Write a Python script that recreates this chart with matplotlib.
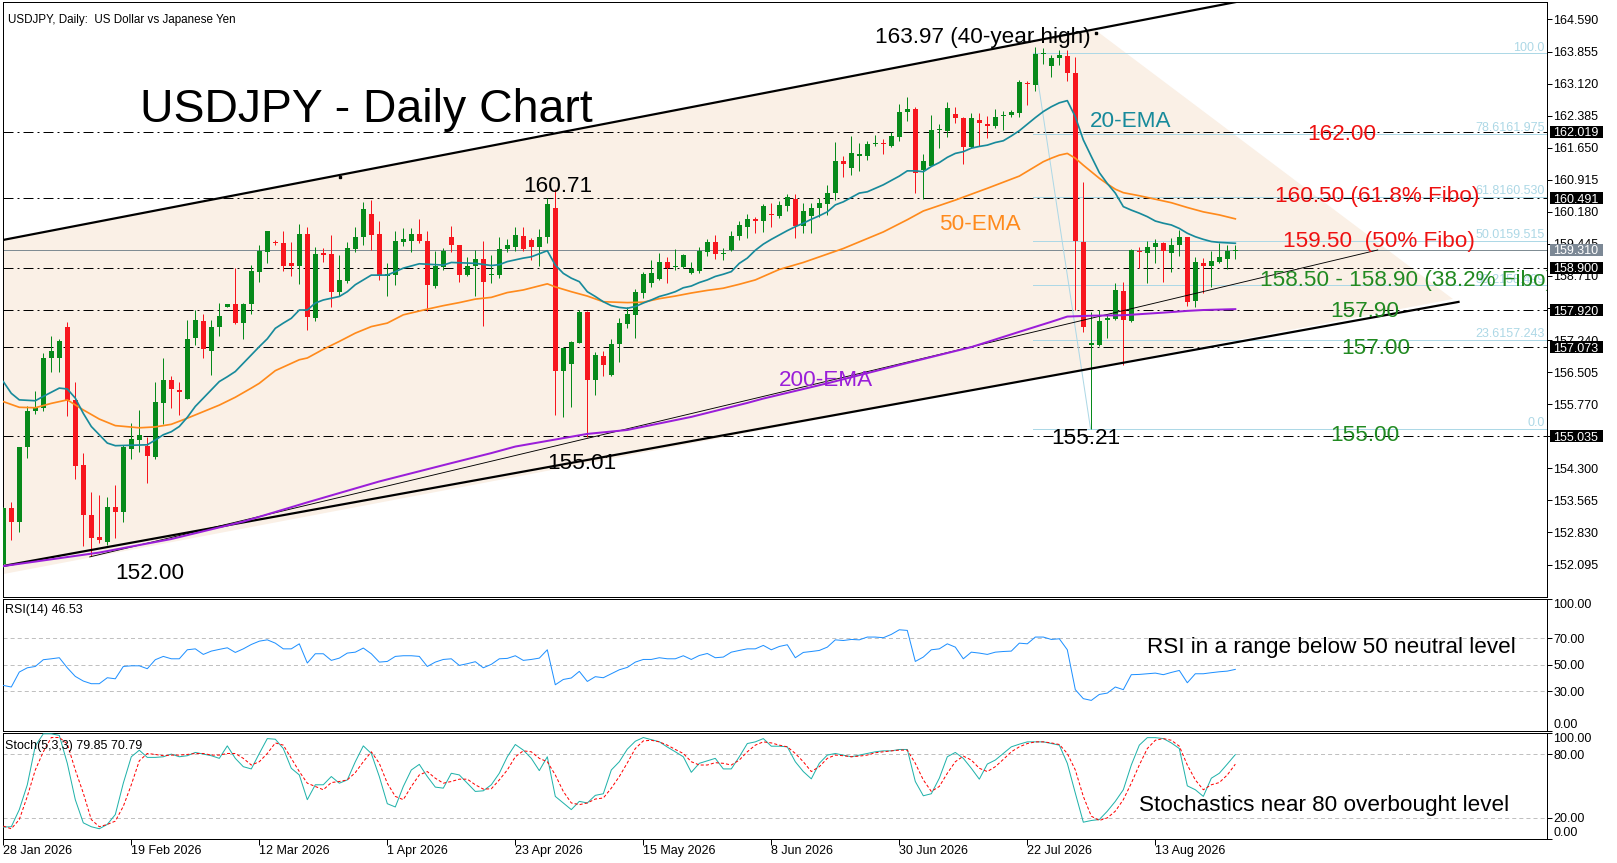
import numpy as np
import matplotlib.pyplot as plt
import matplotlib.transforms as mtransforms
from matplotlib.patches import Rectangle, Polygon

plt.rcParams['font.family'] = ['Liberation Sans', 'DejaVu Sans']
plt.rcParams['lines.scale_dashes'] = False

W, H, DPI = 1617, 863, 100
PX = 72 / DPI  # points per pixel

# ---- price data (daily candles) ----
opens = [152.10, 153.39, 153.06, 154.78, 155.62, 155.68, 156.82, 156.83, 157.54, 155.87,
         154.38, 153.23, 152.73, 152.62, 153.41, 153.29, 154.75, 154.96, 154.82, 154.57,
         155.79, 156.33, 156.10, 155.90, 157.28, 157.67, 157.00, 157.54, 157.99, 158.06,
         157.64, 158.06, 158.81, 159.27, 159.50, 159.46, 159.00, 158.94, 159.67, 157.74,
         159.23, 159.22, 158.35, 158.60, 159.33, 159.60, 160.13, 159.67, 158.71, 158.73,
         159.50, 159.52, 159.67, 159.51, 158.48, 158.91, 159.60, 159.42, 158.73, 158.94,
         159.10, 158.73, 158.73, 159.32, 159.38, 159.63, 159.54, 159.37, 159.60, 160.28,
         156.54, 156.69, 157.17, 157.88, 156.32, 156.87, 156.43, 157.15, 157.61, 157.82,
         158.33, 158.54, 158.63, 159.04, 158.91, 158.91, 158.77, 158.83, 159.25, 159.50,
         159.21, 159.31, 159.63, 159.83, 160.02, 159.98, 160.13, 160.09, 160.31, 160.48,
         159.86, 160.09, 160.28, 160.35, 160.61, 161.35, 161.19, 161.46, 161.45, 161.74,
         161.77, 161.69, 161.90, 162.48, 162.53, 161.14, 161.22, 162.06, 162.04, 162.42,
         162.34, 161.66, 162.29, 162.19, 162.15, 162.38, 162.40, 162.44, 163.14, 163.09,
         163.79, 163.52, 163.70, 163.75, 163.36, 159.50, 157.13, 157.13, 157.69, 157.72,
         158.37, 157.68, 159.29, 159.24, 159.38, 159.47, 159.24, 159.42, 159.60, 158.14,
         159.00, 158.95, 159.04, 159.09, 159.29]
highs = [153.42, 153.52, 154.80, 155.72, 156.08, 156.95, 157.34, 157.27, 157.65, 156.29,
         154.65, 153.75, 153.68, 153.65, 153.92, 154.84, 155.35, 155.64, 155.03, 156.29,
         156.82, 156.42, 156.27, 157.70, 157.93, 157.85, 157.70, 158.08, 158.06, 158.89,
         158.08, 158.96, 159.42, 159.75, 159.54, 159.73, 159.50, 159.90, 159.84, 159.37,
         159.35, 159.65, 159.19, 159.50, 159.84, 160.41, 160.45, 159.97, 159.00, 159.75,
         159.80, 159.80, 160.01, 159.75, 159.29, 159.35, 159.86, 159.42, 159.14, 159.31,
         159.52, 159.19, 159.61, 159.56, 159.84, 159.84, 159.58, 159.78, 160.49, 160.71,
         157.07, 157.21, 157.92, 157.90, 156.96, 157.00, 157.27, 157.74, 157.99, 158.41,
         158.81, 159.08, 159.23, 159.15, 159.32, 159.21, 159.04, 159.37, 159.55, 159.65,
         159.35, 159.75, 159.97, 160.12, 160.07, 160.35, 160.39, 160.43, 160.58, 160.59,
         160.38, 160.39, 160.49, 160.80, 161.79, 161.46, 161.92, 161.75, 161.81, 161.94,
         161.84, 162.00, 162.65, 162.81, 162.58, 161.50, 162.40, 162.19, 162.71, 162.58,
         162.36, 162.45, 162.45, 162.38, 162.53, 162.50, 162.51, 163.20, 163.19, 163.97,
         163.93, 163.78, 163.88, 163.89, 163.74, 160.86, 157.89, 157.93, 157.85, 158.54,
         158.57, 159.34, 159.37, 159.52, 159.55, 159.50, 159.57, 159.76, 159.61, 159.15,
         159.12, 159.29, 159.46, 159.42, 159.42]
lows = [152.05, 152.66, 152.85, 154.53, 155.55, 155.62, 156.52, 156.50, 155.51, 154.06,
        152.51, 152.28, 152.58, 152.55, 152.70, 153.06, 154.52, 154.68, 153.97, 154.51,
        155.31, 155.69, 155.53, 155.90, 157.13, 156.84, 156.43, 157.34, 157.99, 157.61,
        157.26, 157.85, 158.58, 159.00, 159.42, 158.83, 158.70, 158.53, 157.48, 157.67,
        159.02, 158.01, 158.24, 158.56, 159.27, 159.42, 159.31, 158.62, 158.24, 158.51,
        159.40, 159.27, 159.46, 157.90, 158.43, 158.85, 159.27, 158.58, 158.71, 158.24,
        157.57, 158.54, 158.66, 159.27, 159.29, 159.29, 159.08, 158.94, 159.46, 155.53,
        155.47, 155.70, 157.17, 155.01, 155.99, 156.41, 156.42, 156.73, 157.51, 157.28,
        158.20, 158.45, 158.62, 158.56, 158.85, 158.89, 158.75, 158.79, 159.16, 159.09,
        159.08, 159.29, 159.54, 159.57, 159.69, 159.71, 159.84, 160.03, 160.21, 159.57,
        159.69, 159.69, 160.07, 160.11, 160.45, 160.97, 161.03, 161.12, 161.37, 161.69,
        161.51, 161.67, 161.81, 162.27, 160.61, 160.48, 161.22, 161.64, 161.90, 162.22,
        161.28, 161.64, 161.69, 161.87, 162.10, 162.06, 162.36, 162.36, 162.63, 162.96,
        163.58, 163.28, 163.55, 163.19, 157.93, 157.43, 155.21, 157.11, 157.28, 157.71,
        156.67, 157.66, 158.89, 158.56, 159.00, 158.58, 158.81, 159.17, 158.02, 158.01,
        158.33, 158.45, 159.00, 158.86, 159.09]
closes = [153.39, 153.06, 154.78, 155.62, 155.68, 156.82, 156.99, 157.22, 155.87, 154.36,
          153.22, 152.71, 152.66, 153.41, 153.29, 154.80, 154.97, 155.07, 154.59, 155.81,
          156.33, 156.11, 156.05, 157.27, 157.70, 157.03, 157.54, 157.79, 158.06, 157.64,
          158.06, 158.83, 159.29, 159.73, 159.46, 158.94, 158.94, 159.67, 157.76, 159.22,
          159.19, 158.35, 158.62, 159.35, 159.60, 160.25, 159.65, 158.70, 158.76, 159.51,
          159.56, 159.67, 159.52, 158.51, 158.93, 159.29, 159.42, 158.73, 158.94, 159.10,
          158.58, 158.76, 159.32, 159.42, 159.65, 159.32, 159.37, 159.60, 160.36, 156.54,
          157.07, 157.19, 157.88, 156.33, 156.90, 156.67, 157.16, 157.63, 157.84, 158.35,
          158.76, 158.77, 159.04, 158.89, 158.94, 159.19, 158.86, 159.29, 159.50, 159.22,
          159.23, 159.63, 159.88, 160.02, 159.98, 160.31, 160.11, 160.34, 160.51, 159.86,
          160.20, 160.28, 160.39, 160.61, 161.35, 161.27, 161.54, 161.50, 161.74, 161.77,
          161.73, 161.93, 162.48, 162.53, 161.06, 161.35, 162.06, 162.09, 162.55, 162.34,
          161.66, 162.34, 162.21, 162.15, 162.35, 162.39, 162.48, 163.16, 163.11, 163.81,
          163.83, 163.70, 163.78, 163.36, 159.52, 157.53, 157.17, 157.68, 157.74, 158.39,
          157.70, 159.31, 159.25, 159.38, 159.46, 159.29, 159.42, 159.61, 158.12, 159.02,
          158.95, 159.06, 159.14, 159.29, 159.31]

# moving averages, sampled along the drawn lines (bar index, price)
ema20_x = [0, 1, 2, 4, 5, 7, 8, 9, 10, 11, 12, 13, 14, 16, 18, 19, 20, 21, 22, 23, 24, 25, 26,
           27, 28, 29, 30, 31, 32, 33, 34, 35, 36, 37, 38, 39, 40, 41, 42, 43, 44, 45, 46, 48,
           49, 50, 51, 52, 55, 56, 59, 61, 62, 63, 64, 65, 66, 67, 68, 69, 70, 71, 72, 73, 74,
           75, 76, 77, 78, 79, 80, 81, 82, 83, 84, 85, 86, 87, 88, 89, 90, 91, 92, 93, 94, 95,
           96, 97, 98, 99, 100, 101, 102, 103, 104, 105, 106, 107, 108, 109, 110, 111, 112,
           113, 114, 115, 116, 117, 118, 119, 120, 121, 122, 123, 124, 125, 126, 127, 128,
           129, 130, 131, 132, 133, 134, 135, 136, 137, 138, 139, 140, 141, 142, 143, 144,
           145, 146, 147, 148, 149, 150, 151, 152, 153, 154]
ema20_y = [156.29, 156.02, 155.87, 155.85, 155.95, 156.14, 156.12, 155.91, 155.56, 155.26,
           155.07, 154.88, 154.82, 154.83, 154.84, 154.95, 155.07, 155.14, 155.26, 155.47,
           155.72, 155.91, 156.10, 156.29, 156.40, 156.52, 156.71, 156.90, 157.09, 157.27,
           157.51, 157.63, 157.74, 157.93, 157.93, 158.09, 158.16, 158.20, 158.24, 158.35,
           158.51, 158.62, 158.73, 158.73, 158.81, 158.89, 158.94, 158.99, 158.96, 159.02,
           159.00, 158.95, 158.97, 159.04, 159.08, 159.12, 159.15, 159.22, 159.29, 158.96,
           158.77, 158.66, 158.58, 158.35, 158.24, 158.12, 158.03, 157.99, 157.97, 158.01,
           158.09, 158.16, 158.24, 158.29, 158.35, 158.44, 158.48, 158.56, 158.62, 158.70,
           158.75, 158.81, 159.00, 159.12, 159.30, 159.44, 159.55, 159.65, 159.75, 159.84,
           159.92, 160.01, 160.09, 160.18, 160.34, 160.41, 160.51, 160.61, 160.64, 160.72,
           160.80, 160.90, 161.00, 161.12, 161.12, 161.10, 161.22, 161.31, 161.43, 161.52,
           161.56, 161.64, 161.68, 161.71, 161.77, 161.81, 161.92, 162.04, 162.19, 162.34,
           162.48, 162.59, 162.68, 162.73, 162.36, 161.83, 161.45, 161.08, 160.83, 160.61,
           160.30, 160.22, 160.15, 160.07, 159.97, 159.92, 159.88, 159.80, 159.69, 159.61,
           159.55, 159.50, 159.48, 159.47, 159.46]
ema50_x = [0, 2, 4, 6, 8, 10, 12, 14, 17, 19, 21, 23, 25, 27, 29, 31, 32, 34, 37, 38, 40, 42,
           44, 46, 48, 50, 53, 55, 57, 59, 61, 63, 65, 68, 69, 71, 73, 75, 78, 80, 82, 84, 86,
           88, 90, 92, 94, 97, 100, 105, 110, 113, 115, 119, 123, 127, 129, 130, 131, 132,
           133, 134, 135, 136, 137, 138, 139, 140, 142, 144, 146, 148, 150, 152, 154]
ema50_y = [155.83, 155.70, 155.69, 155.79, 155.87, 155.64, 155.43, 155.28, 155.23, 155.25,
           155.31, 155.45, 155.60, 155.75, 155.93, 156.14, 156.25, 156.54, 156.79, 156.83,
           157.03, 157.21, 157.40, 157.55, 157.63, 157.82, 157.95, 158.03, 158.10, 158.18,
           158.22, 158.33, 158.39, 158.53, 158.46, 158.35, 158.25, 158.12, 158.10, 158.11,
           158.19, 158.25, 158.32, 158.38, 158.43, 158.52, 158.62, 158.86, 159.02, 159.34,
           159.72, 160.00, 160.20, 160.45, 160.72, 161.00, 161.22, 161.33, 161.41, 161.48,
           161.52, 161.41, 161.25, 161.10, 160.95, 160.82, 160.70, 160.62, 160.55, 160.47,
           160.39, 160.28, 160.18, 160.11, 160.02]
ema200_x = [0, 12, 21, 30, 38, 47, 56, 61, 64, 73, 78, 86, 93, 95, 103, 112, 121, 127, 131,
            133, 136, 140, 145, 148, 150, 154]
ema200_y = [152.06, 152.37, 152.68, 153.08, 153.52, 154.00, 154.42, 154.65, 154.80, 155.09,
            155.18, 155.48, 155.80, 155.90, 156.25, 156.67, 157.08, 157.43, 157.66, 157.78,
            157.80, 157.81, 157.87, 157.91, 157.93, 157.95]

# indicators
rsi = [34.4, 33.2, 44.5, 47.7, 48.7, 53.8, 54.5, 55.3, 47.7, 41.2, 37.7, 35.7, 35.7, 40.2,
       39.4, 48.7, 49.2, 49.2, 47.0, 53.8, 56.3, 54.5, 54.5, 61.3, 62.0, 57.8, 60.3, 61.6,
       62.8, 59.3, 62.0, 65.3, 67.8, 68.8, 66.3, 62.0, 62.0, 65.8, 51.3, 58.3, 58.3, 53.3,
       55.0, 58.8, 59.5, 62.6, 58.3, 52.0, 52.5, 56.3, 56.8, 56.8, 56.3, 48.7, 52.0, 54.0,
       54.5, 49.5, 50.8, 52.3, 47.7, 50.3, 54.5, 54.8, 56.8, 53.3, 54.0, 55.0, 61.3, 34.9,
       38.9, 40.0, 45.0, 37.4, 41.0, 40.2, 43.2, 46.2, 48.0, 52.0, 54.0, 54.0, 55.3, 54.5,
       54.5, 56.8, 54.0, 57.0, 58.5, 55.3, 55.8, 59.5, 60.8, 62.0, 62.0, 64.6, 61.3, 63.8,
       65.1, 55.3, 59.3, 60.0, 60.8, 63.3, 68.8, 68.3, 69.1, 68.8, 70.9, 70.9, 70.4, 72.9,
       76.4, 75.9, 52.5, 55.8, 61.3, 62.0, 65.8, 63.3, 54.5, 59.5, 58.8, 57.8, 59.5, 60.0,
       60.3, 66.3, 65.8, 70.9, 70.9, 69.1, 69.6, 61.3, 31.2, 24.4, 23.1, 27.6, 28.6, 33.2,
       31.2, 42.5, 42.7, 43.2, 43.7, 42.5, 44.2, 45.7, 36.4, 43.2, 43.2, 44.0, 44.7, 45.2,
       46.5]
stoch_k = [11.3, 11.6, 27.8, 51.3, 88.0, 99.5, 99.5, 98.0, 71.6, 37.2, 15.3, 11.6, 9.7, 13.8,
           23.1, 52.8, 77.8, 84.0, 77.2, 77.2, 77.8, 80.3, 77.8, 78.8, 81.9, 80.3, 78.8, 76.3,
           88.1, 76.3, 68.4, 66.3, 80.9, 95.0, 94.4, 85.6, 66.9, 60.6, 37.2, 51.3, 51.3, 59.1,
           52.8, 55.9, 73.1, 88.1, 80.9, 59.1, 33.4, 30.3, 49.7, 65.3, 70.6, 59.1, 49.1, 48.1,
           62.2, 60.6, 52.8, 45.0, 45.6, 51.3, 62.2, 77.8, 89.4, 84.1, 76.3, 64.7, 77.8, 40.3,
           34.1, 27.8, 35.6, 34.1, 41.3, 42.8, 65.3, 73.1, 85.0, 92.5, 96.0, 94.0, 92.0, 87.0,
           82.5, 77.8, 63.1, 71.6, 74.0, 76.3, 66.3, 66.3, 77.8, 90.3, 91.9, 95.0, 87.8, 87.8,
           87.2, 73.1, 63.8, 56.9, 71.6, 79.4, 80.9, 79.4, 77.8, 79.4, 80.9, 82.5, 83.4, 83.4,
           84.7, 84.7, 54.4, 40.9, 42.8, 57.5, 77.8, 81.9, 76.3, 66.9, 56.6, 70.9, 74.7, 80.9,
           87.2, 89.7, 91.9, 91.9, 91.9, 90.3, 88.8, 71.6, 43.4, 15.9, 17.5, 18.4, 26.3, 35.6,
           46.6, 70.0, 88.8, 95.9, 95.9, 95.0, 90.9, 85.6, 50.3, 46.6, 40.3, 57.5, 62.2, 70.9,
           79.85]
stoch_d = [12.2, 9.7, 18.4, 40.3, 65.3, 82.5, 96.0, 96.0, 90.0, 65.3, 43.4, 18.4, 11.6, 13.8,
           16.9, 30.9, 51.3, 74.0, 80.9, 80.0, 78.8, 79.4, 79.4, 80.0, 80.9, 80.9, 79.4, 79.4,
           80.9, 80.9, 76.3, 70.0, 73.1, 80.9, 90.9, 88.8, 76.3, 63.8, 52.8, 49.7, 46.6, 53.4,
           54.4, 55.9, 62.8, 73.1, 82.5, 71.6, 52.8, 40.3, 37.2, 49.7, 60.6, 63.8, 57.5, 52.8,
           54.4, 56.6, 56.6, 51.3, 47.2, 47.5, 55.9, 65.3, 77.8, 83.4, 82.5, 76.3, 73.1, 60.6,
           45.0, 34.1, 32.5, 34.1, 37.8, 38.8, 48.1, 59.1, 72.0, 85.6, 92.8, 93.4, 91.9, 88.8,
           84.7, 80.9, 73.1, 70.0, 70.0, 72.2, 71.6, 70.0, 74.7, 82.5, 88.8, 91.9, 90.9, 88.8,
           87.2, 80.9, 73.1, 63.8, 68.4, 76.3, 79.4, 78.8, 77.8, 78.4, 79.4, 81.6, 82.5, 83.4,
           84.1, 84.1, 71.6, 55.9, 45.0, 49.7, 62.2, 73.1, 78.4, 74.7, 66.9, 63.8, 68.4, 75.3,
           82.5, 87.2, 90.3, 91.9, 91.9, 90.9, 89.4, 80.9, 65.3, 40.3, 21.6, 17.5, 20.0, 26.3,
           37.2, 52.8, 70.0, 85.6, 93.4, 95.0, 93.4, 87.8, 70.0, 55.9, 46.6, 51.3, 53.4, 60.6,
           70.79]

# chart objects
level_lines = [162.019, 160.491, 158.900, 157.920, 157.073, 155.035]
last_price = 159.310
fib_levels = ['0.0', '23.6', '38.2', '50.0', '61.8', '78.6', '100.0']
fib_prices = [155.212, 157.243, 158.499, 159.515, 160.530, 161.975, 163.818]
fib_start = 128.7
fib_swing = [(128.8, 163.818), (135.9, 155.212)]
upper_channel = [(-0.06, 159.535), (160.0, 165.20)]
lower_channel = [(-0.06, 152.061), (181.9, 158.116)]
inner_line = [(10.8, 152.27), (171.8, 159.306)]
shade = [(-0.06, 159.535), (136.34, 164.372), (181.2, 158.182), (-0.06, 151.875)]
anchors = [(42.05, 160.98), (136.6, 164.29)]

date_idx = [0, 16, 32, 48, 64, 80, 96, 112, 128, 144]
date_labels = ['28 Jan 2026', '19 Feb 2026', '12 Mar 2026', '1 Apr 2026', '23 Apr 2026',
               '15 May 2026', '8 Jun 2026', '30 Jun 2026', '22 Jul 2026', '13 Aug 2026']
price_ticks = [152.095 + 0.735 * k for k in range(18)]

GREEN, RED = '#078A1B', '#F7161E'
TEAL, ORANGE, PURPLE = '#178A9B', '#FF8A1C', '#9A1ED9'
LBLUE = '#ADD8E6'
TXT_RED, TXT_GREEN = '#EE1111', '#218A21'

fig = plt.figure(figsize=(W / DPI, H / DPI), dpi=DPI)
LEFT, RIGHT = 2.8, 1547.0


def panel(top, bottom):
    a = fig.add_axes([LEFT / W, 1 - bottom / H, (RIGHT - LEFT) / W, (bottom - top) / H])
    for s in a.spines.values():
        s.set_linewidth(1 * PX)
    a.set_xlim(-0.0625, 192.96)
    a.yaxis.tick_right()
    a.tick_params(axis='y', direction='out', length=5 * PX, width=1 * PX, pad=1.5 * PX,
                  labelsize=9, left=False)
    a.tick_params(axis='x', bottom=False, labelbottom=False)
    return a


ax = panel(2, 596.7)
ax_rsi = panel(598.5, 731)
ax_st = panel(733.3, 839)

# ---- main price panel ----
ax.set_ylim(151.358, 164.991)
ax.add_patch(Polygon(shade, closed=True, fc='#FAF0E6', ec='none', zorder=0.5))

x = np.arange(len(closes))
o, h, l, c = map(np.array, (opens, highs, lows, closes))
cols = np.where(c >= o, GREEN, RED)
ax.vlines(x, l, h, colors=cols, lw=1 * PX, zorder=3)
ax.bar(x, np.maximum(np.abs(c - o), 0.025), bottom=np.minimum(o, c), width=0.625,
       color=cols, lw=0, zorder=3)

dashdot = (0, (7.2, 2.9, 1.4, 2.9))
for lv in level_lines:
    ax.axhline(lv, color='black', lw=1 * PX, ls=dashdot, zorder=2.5)
ax.axhline(last_price, color='#7F8C93', lw=1 * PX, zorder=2.4)

for p in fib_prices:
    ax.plot([fib_start, 193], [p, p], color=LBLUE, lw=1 * PX, zorder=2.6)
ax.plot(*zip(*fib_swing), color=LBLUE, lw=1 * PX, zorder=2.6)
for lvl, p in zip(fib_levels, fib_prices):
    lab = lvl if lvl in ('0.0', '100.0') else f'{lvl}{p:.3f}'
    ax.text(192.7, p + 0.06, lab, color=LBLUE, fontsize=9, ha='right', va='baseline',
            zorder=2.6)

ax.plot(*zip(*upper_channel), color='black', lw=2.2 * PX, zorder=4)
ax.plot(*zip(*lower_channel), color='black', lw=2.2 * PX, zorder=4)
ax.plot(*zip(*inner_line), color='black', lw=0.9 * PX, zorder=4)
ax.plot(*zip(*anchors), ls='none', marker='s', ms=2.2 * PX, color='black', zorder=4)

ax.plot(ema200_x, ema200_y, color=PURPLE, lw=2.0 * PX, zorder=5)
ax.plot(ema50_x, ema50_y, color=ORANGE, lw=1.7 * PX, zorder=5)
ax.plot(ema20_x, ema20_y, color=TEAL, lw=1.7 * PX, zorder=5)

# axis price labels and boxes
ax.set_yticks(price_ticks)
ax.set_yticklabels([f'{t:.3f}' for t in price_ticks])
bt = mtransforms.blended_transform_factory(ax.transAxes, ax.transData)
bx0 = (1550 - LEFT) / (RIGHT - LEFT)
bw = 53 / (RIGHT - LEFT)
tx0 = (1553.3 - LEFT) / (RIGHT - LEFT)
bh = 12 / 43.62
for lv, fc in [(v, 'black') for v in level_lines] + [(last_price, '#7C8895')]:
    ax.add_patch(Rectangle((bx0, lv - bh / 2), bw, bh, transform=bt, fc=fc, ec='none',
                           clip_on=False, zorder=10))
    ax.text(tx0, lv, f'{lv:.3f}', transform=bt, color='white', fontsize=9, ha='left',
            va='center_baseline', clip_on=False, zorder=11)

# texts
big = 16.2
ax.text(0.54, 164.50, 'USDJPY, Daily:  US Dollar vs Japanese Yen', fontsize=8.4,
        va='baseline', zorder=6)
ax.text(17.05, 162.236, 'USDJPY - Daily Chart', fontsize=33.4, va='baseline', zorder=6)
ax.text(108.96, 164.06, '163.97 (40-year high)', fontsize=big, va='baseline', zorder=6)
ax.text(65.0, 160.642, '160.71', fontsize=big, va='baseline', zorder=6)
ax.text(14.03, 151.775, '152.00', fontsize=big, va='baseline', zorder=6)
ax.text(68.04, 154.296, '155.01', fontsize=big, va='baseline', zorder=6)
ax.text(131.05, 154.851, '155.21', fontsize=big, va='baseline', zorder=6)
ax.text(135.8, 162.119, '20-EMA', fontsize=big, color=TEAL, va='baseline', zorder=6)
ax.text(116.96, 159.773, '50-EMA', fontsize=big, color=ORANGE, va='baseline', zorder=6)
ax.text(96.9, 156.188, '200-EMA', fontsize=big, color=PURPLE, va='baseline', zorder=6)
ax.text(162.96, 161.828, '162.00', fontsize=big, color=TXT_RED, va='baseline', zorder=6)
ax.text(159.0, 160.408, '160.50 (61.8% Fibo)', fontsize=big, color=TXT_RED, va='baseline',
        zorder=6)
ax.text(160.0, 159.375, '159.50  (50% Fibo)', fontsize=big, color=TXT_RED, va='baseline',
        zorder=6)
ax.text(157.06, 158.48, '158.50 - 158.90 (38.2% Fibo)', fontsize=big, color=TXT_GREEN,
        va='baseline', zorder=6, clip_on=True)
ax.text(165.9, 157.761, '157.90', fontsize=big, color=TXT_GREEN, va='baseline', zorder=6)
ax.text(167.2, 156.912, '157.00', fontsize=big, color=TXT_GREEN, va='baseline', zorder=6)
ax.text(165.9, 154.934, '155.00', fontsize=big, color=TXT_GREEN, va='baseline', zorder=6)

# ---- RSI panel ----
ax_rsi.set_ylim(0, 100)
for lv in (70, 50, 30):
    ax_rsi.axhline(lv, color='#C0C0C0', lw=1 * PX, ls=(0, (2.9, 2.2)), zorder=1)
ax_rsi.plot(x, rsi, color='#1E90FF', lw=1 * PX, zorder=3)
ax_rsi.set_yticks([0, 30, 50, 70, 100])
ax_rsi.set_yticklabels(['0.00', '30.00', '50.00', '70.00', '100.00'])
tl = ax_rsi.get_yticklabels()
tl[0].set_va('bottom')
tl[-1].set_va('top')
ax_rsi.text(0.2, 88.7, 'RSI(14) 46.53', fontsize=9, va='baseline')
ax_rsi.text(142.9, 58.6, 'RSI in a range below 50 neutral level', fontsize=big,
            va='baseline')

# ---- Stochastic panel ----
ax_st.set_ylim(0, 100)
for lv in (80, 20):
    ax_st.axhline(lv, color='#C0C0C0', lw=1 * PX, ls=(0, (2.9, 2.2)), zorder=1)
ax_st.plot(x, stoch_k, color='#20B2AA', lw=1 * PX, zorder=3)
ax_st.plot(x, stoch_d, color='#FF0000', lw=1 * PX, ls=(0, (2.2, 1.5)), zorder=3)
ax_st.set_yticks([0, 20, 80, 100])
ax_st.set_yticklabels(['0.00', '20.00', '80.00', '100.00'])
tl = ax_st.get_yticklabels()
tl[0].set_va('bottom')
tl[-1].set_va('top')
ax_st.text(0.2, 85.6, 'Stoch(5,3,3) 79.85 70.79', fontsize=9, va='baseline')
ax_st.text(141.9, 26.8, 'Stochastics near 80 overbought level', fontsize=big,
           va='baseline')

ax_st.tick_params(axis='x', bottom=True, labelbottom=True, direction='out',
                  length=6 * PX, width=1 * PX, pad=0, labelsize=9)
ax_st.set_xticks(date_idx)
ax_st.set_xticklabels(date_labels, ha='left')

fig.savefig('out.png', dpi=DPI)
